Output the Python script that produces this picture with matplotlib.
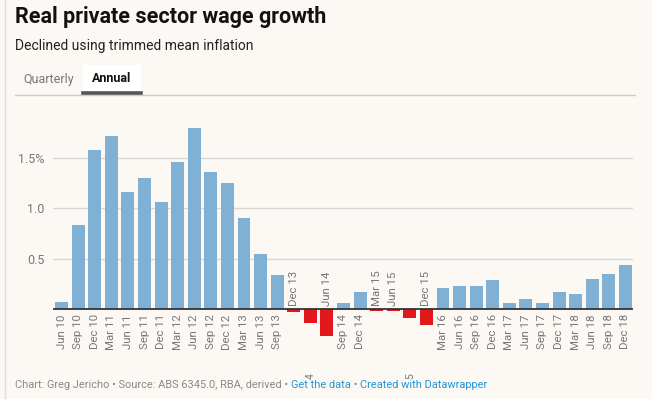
import matplotlib.pyplot as plt
from matplotlib.transforms import blended_transform_factory, offset_copy
from matplotlib.lines import Line2D
from matplotlib.patches import Rectangle

plt.rcParams['font.family'] = ['Roboto', 'DejaVu Sans']

quarters = ["Jun 10", "Sep 10", "Dec 10", "Mar 11", "Jun 11", "Sep 11", "Dec 11",
            "Mar 12", "Jun 12", "Sep 12", "Dec 12", "Mar 13", "Jun 13", "Sep 13",
            "Dec 13", "Mar 14", "Jun 14", "Sep 14", "Dec 14", "Mar 15", "Jun 15",
            "Sep 15", "Dec 15", "Mar 16", "Jun 16", "Sep 16", "Dec 16", "Mar 17",
            "Jun 17", "Sep 17", "Dec 17", "Mar 18", "Jun 18", "Sep 18", "Dec 18"]
growth = [0.07, 0.83, 1.58, 1.72, 1.16, 1.30, 1.06,
          1.46, 1.80, 1.36, 1.25, 0.90, 0.55, 0.34,
          -0.03, -0.14, -0.26, 0.06, 0.17, -0.02, -0.015,
          -0.09, -0.16, 0.21, 0.23, 0.23, 0.29, 0.06,
          0.10, 0.06, 0.17, 0.15, 0.30, 0.35, 0.44]
# labels that got pushed down under the chart, only last char shows
hidden_labels = {"Mar 14": "4", "Sep 15": "5"}

ytick_vals = [0.5, 1.0, 1.5]
ytick_text = ["0.5", "1.0", "1.5%"]

W, H = 652, 399
bg = "#fcf9f5"
blue = "#80b1d4"
red = "#e2191c"
gray_txt = "#777777"

fig = plt.figure(figsize=(W / 100, H / 100), dpi=100, facecolor=bg)

def px(x, y):
    return x / W, 1 - y / H

# page border on the left
fig.add_artist(Line2D([5 / W, 5 / W], [0, 1], color="#dddddd", lw=1))

# header
fig.text(*px(15, 17), "Real private sector wage growth", fontsize=15.5, fontweight="bold",
         color="#111111", va="center", ha="left")
fig.text(*px(15, 46), "Declined using trimmed mean inflation", fontsize=10,
         color="#222222", va="center", ha="left")

# tabs
fig.add_artist(Rectangle(px(83, 94), 58 / W, 29 / H, facecolor="white", edgecolor="none"))
fig.add_artist(Line2D([15 / W, 635 / W], [1 - 95.3 / H] * 2, color="#cccccc", lw=1))
fig.add_artist(Line2D([83 / W, 141 / W], [1 - 93 / H] * 2, color="#555555", lw=2.6))
fig.text(*px(49, 79), "Quarterly", fontsize=9, color="#777777", va="center", ha="center")
fig.text(*px(112, 79), "Annual", fontsize=9, fontweight="bold", color="#111111",
         va="center", ha="center")

# chart area
ymin, ymax = -0.35, 1.95
top_px = 309.3 - ymax * 101
bot_px = 309.3 - ymin * 101
ax = fig.add_axes([53 / W, 1 - bot_px / H, 580 / W, (bot_px - top_px) / H])
ax.set_facecolor("none")

x = list(range(len(quarters)))
colors = [blue if v >= 0 else red for v in growth]
ax.bar(x, growth, width=0.78, color=colors, zorder=2)
ax.set_xlim(-0.52, len(quarters) - 1 + 0.46)
ax.set_ylim(ymin, ymax)

for v in ytick_vals:
    ax.axhline(v, color="#d8d8d8", lw=1, zorder=1)
ax.axhline(0, color="#333333", lw=1.3, zorder=3)

ax.set_xticks([])
ax.set_yticks(ytick_vals)
ax.set_yticklabels(ytick_text, fontsize=9, color=gray_txt)
ax.tick_params(axis="y", length=0, pad=6)
for s in ax.spines.values():
    s.set_visible(False)

trans = ax.transData
for i, (q, v) in enumerate(zip(quarters, growth)):
    if q in hidden_labels:
        bt = blended_transform_factory(ax.transData, fig.transFigure)
        ax.text(i, 1 - 376 / H, hidden_labels[q], transform=bt, rotation=90,
                fontsize=7.5, color=gray_txt, ha="center", va="center", clip_on=False)
    elif v >= 0:
        t = offset_copy(trans, fig=fig, y=-5, units="dots")
        ax.text(i, 0, q, transform=t, rotation=90, fontsize=8.2, color=gray_txt,
                ha="center", va="top")
    else:
        t = offset_copy(trans, fig=fig, y=3, units="dots")
        ax.text(i, 0, q, transform=t, rotation=90, fontsize=8.2, color=gray_txt,
                ha="center", va="bottom")

# footer, pieces chained one after another
link = "#2596d1"
pieces = [("Chart: Greg Jericho • Source: ABS 6345.0, RBA, derived • ", "#8a8a8a"),
          ("Get the data", link), (" • ", "#8a8a8a"), ("Created with Datawrapper", link)]
fig.canvas.draw()
renderer = fig.canvas.get_renderer()
xpos = 15
for txt, col in pieces:
    t = fig.text(xpos / W, 1 - 385 / H, txt, fontsize=7.9, color=col, va="center", ha="left")
    xpos += t.get_window_extent(renderer).width

fig.savefig("out.png", dpi=100, facecolor=bg)
